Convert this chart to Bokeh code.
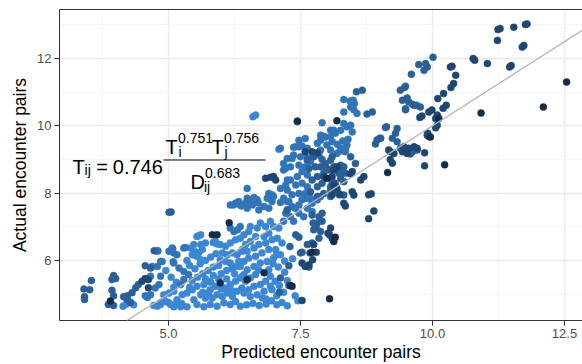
from bokeh.plotting import figure
from bokeh.models import Range1d, Slope, Label, LinearAxis, FixedTicker, NumeralTickFormatter
from bokeh.embed import file_html
from bokeh.resources import INLINE
from bokeh.core.properties import value

# ---- data: predicted (x) and actual (y) encounter pairs, grouped by colour shade ----
darkest_x = [12.54, 12.10, 10.92, 10.23, 9.15, 3.90, 8.05, 7.31, 7.34, 6.15, 8.19, 7.44, 8.16, 8.13,
             5.83, 5.92, 6.81, 7.72, 5.98, 6.49, 8.00, 9.96, 10.12]
darkest_y = [11.30, 10.56, 10.38, 8.84, 8.61, 4.79, 4.86, 5.25, 5.23, 7.12, 10.15, 10.14, 6.69, 6.56,
             6.76, 6.76, 5.63, 6.24, 5.33, 5.43, 8.44, 9.67, 10.22]

dark_x = [11.24, 11.28, 11.54, 11.76, 11.79, 11.23, 11.70, 11.73, 10.77, 10.80, 11.04, 11.46, 11.49,
          10.34, 10.37, 10.44, 10.40, 10.35, 10.21, 10.10, 10.26, 10.20, 9.99, 9.93, 10.09, 10.06,
          10.09, 10.06, 9.91, 9.93, 9.85, 9.85, 9.76, 9.80, 9.90, 9.46, 9.55, 9.65, 9.71, 9.43, 9.52,
          9.20, 9.24, 8.70, 8.64, 9.20, 9.27, 8.79, 8.84, 8.89, 8.79, 8.10, 8.05, 8.07, 8.02, 7.68,
          7.73, 7.53, 8.48, 8.32, 8.35, 9.17, 7.82, 7.72, 7.59, 8.13, 8.19, 8.13, 8.19, 7.94, 8.10,
          6.84, 6.93, 6.99, 7.03, 8.51, 8.48, 8.45, 7.80, 8.10, 8.24, 7.75, 7.66, 7.59, 7.53,
          4.50, 4.56, 4.62, 4.62]
dark_y = [12.86, 12.89, 12.93, 13.01, 13.03, 12.54, 12.34, 12.39, 12.00, 11.95, 11.85, 11.75, 11.79,
          11.75, 11.77, 11.50, 11.26, 11.14, 10.96, 10.81, 10.61, 10.52, 10.47, 10.41, 10.32, 10.22,
          10.02, 9.94, 9.78, 9.68, 9.20, 8.81, 10.25, 10.29, 9.72, 9.38, 9.33, 9.38, 9.33, 9.23, 9.18,
          9.00, 8.89, 8.49, 8.39, 9.23, 9.18, 7.95, 7.98, 7.47, 7.24, 6.66, 6.76, 6.96, 6.81, 6.22,
          6.02, 4.81, 8.04, 7.70, 7.62, 9.28, 9.20, 9.23, 9.23, 8.24, 8.14, 8.69, 8.78, 8.49, 8.49,
          8.44, 8.47, 8.49, 8.39, 7.94, 8.64, 8.57, 6.24, 7.95, 7.95, 6.47, 5.87, 5.82, 5.92,
          5.38, 5.46, 5.43, 5.19]

mid_x = [10.01, 9.74, 9.87, 9.90, 9.84, 9.60, 9.39, 9.47, 9.49, 9.43, 9.52, 9.55, 9.49, 9.65, 9.77,
         9.62, 9.70, 9.49, 8.67, 8.56, 8.76, 8.86, 9.13, 9.33, 9.30, 8.95, 9.00, 8.92, 9.11, 9.24,
         9.33, 9.02, 9.52, 9.62, 9.68, 9.71, 9.58, 9.39, 8.23, 8.26, 8.32, 7.91, 7.82, 7.85, 7.91,
         7.75, 7.78, 7.72, 7.53, 7.63, 7.47, 7.41, 7.50, 7.66, 7.28, 7.12, 7.30, 7.88, 7.80, 7.85,
         7.74, 7.72, 3.54, 3.40, 3.51, 3.41, 3.41, 3.96, 3.93, 4.00, 3.93, 3.96, 3.86, 3.96, 4.15,
         4.22, 4.31, 4.38, 4.43, 4.56, 4.66, 4.73, 4.22, 4.28, 5.01, 5.05, 8.16, 8.07, 8.13, 8.23,
         8.32, 8.07, 8.10, 8.13, 8.19, 8.26, 8.32, 8.35, 7.63, 7.75, 7.66, 7.78, 8.00, 8.04, 7.94,
         7.82, 7.72, 7.91, 8.10, 8.16, 8.07, 7.94, 7.82, 7.69, 7.82, 7.91, 7.97, 7.88, 8.07, 8.26,
         8.54, 8.45, 7.25, 7.28, 7.10]
mid_y = [12.04, 11.82, 11.85, 11.75, 11.65, 11.53, 11.06, 11.14, 11.18, 10.76, 10.83, 10.71, 10.51,
         10.61, 10.56, 10.64, 10.61, 10.48, 11.06, 11.01, 10.35, 10.41, 9.97, 9.92, 9.78, 9.58, 9.63,
         9.46, 9.95, 9.63, 9.53, 9.63, 9.28, 9.23, 9.33, 9.28, 9.16, 9.33, 8.59, 8.44, 8.34, 7.16,
         7.11, 7.30, 7.40, 6.91, 6.96, 6.52, 6.24, 6.47, 6.69, 6.76, 6.22, 5.80, 5.84, 5.48, 6.41,
         6.86, 6.98, 6.66, 7.11, 7.35, 5.40, 5.15, 5.13, 4.92, 4.84, 5.55, 5.43, 5.46, 5.11, 4.95,
         4.69, 4.66, 4.92, 4.95, 5.04, 5.19, 5.28, 5.84, 5.77, 6.29, 4.84, 4.75, 7.43, 7.44, 8.29,
         8.19, 8.09, 7.99, 7.94, 7.90, 9.08, 8.78, 8.69, 8.74, 8.78, 8.59, 8.98, 9.08, 8.73, 8.78,
         8.73, 8.69, 8.59, 8.49, 8.39, 8.29, 8.34, 8.19, 8.09, 7.99, 7.90, 8.04, 8.19, 9.00, 8.88,
         8.78, 8.98, 8.83, 8.88, 9.08, 7.50, 5.25, 5.05]

light_x = [8.32, 8.44, 8.50, 8.52, 8.45, 8.51, 8.57, 8.32, 8.32, 8.38, 8.45, 8.48, 8.26, 8.16, 8.07,
           7.91, 7.88, 7.93, 8.07, 8.13, 8.00, 8.10, 7.97, 7.88, 8.20, 8.30, 8.40, 8.35, 8.25, 8.38,
           8.26, 8.35, 8.07, 8.19, 7.44, 7.37, 7.47, 7.53, 7.41, 7.12, 7.63, 7.47, 7.59, 7.82, 7.88,
           7.50, 7.37, 7.25, 7.18, 7.31, 7.47, 7.34, 7.18, 7.22, 7.63, 7.69, 7.59, 7.85, 7.63, 7.53,
           7.44, 7.53, 7.63, 7.41, 7.31, 7.25, 7.34, 7.47, 7.59, 7.69, 7.59, 7.12, 7.22, 7.25, 6.49,
           6.49, 6.62, 6.90, 6.87, 6.96, 7.12, 7.25, 6.23, 6.31, 6.38, 6.46, 6.53, 6.68, 6.70, 6.17,
           6.27, 6.33, 6.62, 6.59, 6.49, 6.71, 6.81, 6.90, 6.96, 6.99, 7.18, 7.28, 7.34, 7.25, 7.40,
           7.47, 7.53, 7.63, 7.72, 7.82, 7.88, 7.63, 7.72, 7.47, 7.56, 7.31, 7.37, 7.18, 7.22, 6.17,
           6.24, 6.31, 6.36, 5.08, 5.09, 5.32, 4.80, 4.88, 5.09, 4.79, 4.85, 4.79, 4.69, 4.66, 4.85,
           4.75, 4.82, 5.01, 5.07, 5.16, 5.29, 5.10, 5.20, 5.29, 5.29, 5.38, 5.23, 4.56, 4.66, 4.60]
light_y = [10.78, 10.74, 10.76, 10.66, 10.56, 10.48, 10.37, 10.41, 10.07, 9.97, 10.02, 9.82, 9.87,
           9.78, 9.68, 10.09, 9.72, 9.69, 9.87, 9.87, 9.43, 9.53, 9.67, 9.57, 9.45, 9.55, 9.60, 9.35,
           9.25, 9.43, 9.33, 9.23, 9.28, 9.18, 10.12, 9.36, 9.38, 9.40, 9.38, 9.33, 9.33, 9.57, 9.62,
           9.48, 9.28, 9.08, 9.13, 9.03, 8.88, 8.78, 8.83, 9.03, 8.69, 8.74, 9.06, 8.93, 8.78, 9.13,
           8.54, 8.64, 8.49, 8.29, 8.19, 8.24, 8.39, 8.09, 7.95, 7.99, 7.99, 7.85, 7.85, 8.14, 8.24,
           8.39, 8.14, 7.85, 7.87, 7.99, 7.85, 7.95, 7.72, 7.75, 7.65, 7.68, 7.62, 7.71, 7.77, 7.80,
           7.71, 7.65, 7.70, 7.75, 7.85, 7.65, 7.55, 7.50, 7.60, 7.55, 7.75, 7.90, 7.85, 7.75, 7.60,
           7.50, 7.55, 7.65, 7.80, 7.85, 7.70, 7.80, 7.90, 7.55, 7.45, 7.40, 7.30, 7.30, 7.16, 7.16,
           7.40, 6.96, 6.86, 6.91, 7.01, 6.35, 6.23, 6.38, 6.29, 5.97, 5.96, 6.27, 5.97, 5.82, 5.82,
           5.53, 5.53, 5.18, 5.28, 6.27, 6.37, 6.17, 6.37, 5.92, 5.77, 5.67, 5.43, 5.58, 5.28, 4.95,
           4.98, 4.90]

lightest_x = [6.60, 6.65, 7.09, 5.54, 5.61, 5.70, 5.61, 5.48, 5.42, 5.48, 5.57, 5.64, 5.51, 5.45,
              5.54, 5.61, 5.57, 5.85, 5.92, 5.89, 5.98, 6.08, 6.17, 6.27, 6.36, 6.21, 6.11, 6.02,
              5.98, 6.08, 6.17, 6.30, 6.39, 6.33, 6.27, 6.43, 6.52, 6.55, 6.68, 6.74, 6.84, 6.93,
              6.99, 7.09, 6.90, 6.81, 6.65, 6.55, 6.46, 6.40, 6.49, 6.62, 6.71, 6.84, 6.96, 7.06,
              7.15, 7.03, 6.90, 6.77, 6.65, 6.52, 6.43, 6.36, 6.49, 6.62, 6.74, 6.87, 6.99, 7.12,
              7.05, 6.40, 6.46, 6.55, 6.65, 6.71, 6.90, 6.93, 6.84, 6.74, 6.62, 6.52, 6.43, 6.55,
              6.68, 6.81, 6.93, 6.96, 4.91, 5.01, 5.10, 4.94, 4.85, 5.04, 5.16, 5.26, 5.35, 5.45,
              5.54, 5.67, 5.76, 5.79, 5.89, 6.08, 6.17, 6.27, 6.36, 6.43, 5.61, 5.70, 5.83, 5.92,
              6.02, 6.11, 6.21, 6.30, 6.39, 5.54, 5.67, 5.79, 5.92, 6.05, 6.17, 6.27, 6.36, 5.35,
              5.23, 5.10, 5.48, 5.76, 4.14, 4.79, 4.85, 5.00, 5.15, 5.25, 4.20, 4.28, 4.34, 4.72,
              6.48, 6.60, 6.72, 6.85, 6.95, 7.05, 7.15, 7.25, 6.78, 7.05, 7.18, 7.10, 7.25, 7.02,
              7.20, 7.08, 6.98, 7.20, 7.35, 5.45, 5.55, 5.65, 5.75, 5.85, 5.95, 5.50, 5.60, 5.70,
              5.80, 5.90, 5.70, 5.85, 6.00, 6.10, 6.20, 5.95, 6.10, 6.25, 5.40, 5.35, 5.80, 6.00,
              6.20, 5.65, 5.40, 5.15, 5.05, 4.95, 5.10, 6.85, 7.40, 7.45]
lightest_y = [10.27, 10.32, 9.30, 6.71, 6.76, 6.52, 6.47, 6.47, 6.37, 6.17, 6.22, 6.32, 6.26, 6.17,
              6.12, 6.02, 6.73, 6.53, 6.49, 6.56, 6.47, 6.42, 6.52, 6.61, 6.66, 6.22, 6.17, 6.22,
              6.02, 5.97, 5.92, 6.17, 6.27, 5.97, 5.82, 6.76, 6.86, 7.01, 6.96, 7.11, 7.01, 7.16,
              7.01, 6.96, 6.81, 6.71, 6.71, 6.56, 6.47, 6.32, 6.27, 6.37, 6.47, 6.52, 6.61, 6.66,
              6.52, 6.32, 6.32, 6.22, 6.12, 6.07, 5.97, 5.82, 5.72, 5.82, 5.92, 5.97, 6.07, 6.17,
              6.17, 5.53, 5.38, 5.48, 5.58, 5.72, 5.72, 5.53, 5.38, 5.28, 5.23, 5.13, 5.03, 4.93,
              4.98, 5.08, 5.23, 5.13, 4.98, 5.03, 5.08, 4.78, 4.69, 4.69, 4.83, 4.98, 5.03, 5.13,
              5.23, 5.28, 5.38, 5.13, 5.23, 5.18, 5.28, 5.38, 5.48, 5.58, 4.98, 4.88, 4.88, 4.98,
              4.93, 5.03, 4.93, 5.08, 5.18, 4.69, 4.62, 4.69, 4.64, 4.74, 4.69, 4.78, 4.64, 4.62,
              4.62, 4.62, 4.83, 5.03, 4.64, 4.64, 4.75, 4.75, 4.70, 4.72, 4.70, 4.75, 4.68, 4.66,
              4.68, 4.72, 4.66, 4.70, 4.80, 4.68, 4.75, 4.65, 4.88, 4.95, 5.05, 5.25, 5.40, 5.38,
              5.65, 5.80, 5.90, 5.98, 6.05, 5.40, 5.50, 5.60, 5.70, 5.80, 5.85, 5.75, 5.90, 6.00,
              6.10, 6.20, 5.45, 5.55, 5.60, 5.70, 5.75, 5.45, 5.45, 5.60, 5.85, 6.00, 5.35, 5.15,
              5.10, 5.05, 5.20, 5.35, 5.50, 5.70, 5.20, 4.85, 4.95, 4.80]

groups = [
    (lightest_x, lightest_y, "#3C87D3"),
    (light_x, light_y, "#3274B8"),
    (mid_x, mid_y, "#2A5F97"),
    (dark_x, dark_y, "#1F4670"),
    (darkest_x, darkest_y, "#142D47"),
]

x_ticks = [5.0, 7.5, 10.0, 12.5]
y_ticks = [6, 8, 10, 12]

FONT = "Liberation Sans"

p = figure(width=582, height=364, output_backend="svg", toolbar_location=None,
           x_range=Range1d(2.936, 12.841), y_range=Range1d(4.213, 13.458),
           min_border_left=59, min_border_right=0, min_border_top=9, min_border_bottom=43,
           x_axis_label="Predicted encounter pairs", y_axis_label="Actual encounter pairs")
p.outline_line_color = None
p.background_fill_color = "white"
p.border_fill_color = "white"

# grid
p.xaxis.ticker = FixedTicker(ticks=x_ticks, minor_ticks=[3.75, 6.25, 8.75, 11.25])
p.yaxis.ticker = FixedTicker(ticks=y_ticks, minor_ticks=[5, 7, 9, 11, 13])
p.xaxis.formatter = NumeralTickFormatter(format="0.0")
p.yaxis.formatter = NumeralTickFormatter(format="0")
for g in (p.xgrid[0], p.ygrid[0]):
    g.grid_line_color = "#EBEBEB"
    g.grid_line_width = 1.4
    g.minor_grid_line_color = "#F3F3F3"
    g.minor_grid_line_width = 0.8

for ax in (p.xaxis[0], p.yaxis[0]):
    ax.axis_line_color = "#333333"
    ax.axis_line_width = 1
    ax.major_tick_line_color = "#333333"
    ax.major_tick_out = 5
    ax.major_tick_in = 0
    ax.minor_tick_out = 0
    ax.minor_tick_in = 0
    ax.major_label_text_color = "#4D4D4D"
    ax.major_label_text_font = FONT
    ax.major_label_text_font_size = "13px"
    ax.major_label_standoff = 3
    ax.axis_label_text_font = FONT
    ax.axis_label_text_font_size = "17.5px"
    ax.axis_label_text_font_style = "normal"
    ax.axis_label_text_color = "black"
p.xaxis[0].axis_label_standoff = 1
p.yaxis[0].axis_label_standoff = 4

top = LinearAxis(ticker=FixedTicker(ticks=[]), major_tick_out=0, major_tick_in=0,
                 minor_tick_out=0, minor_tick_in=0, major_label_standoff=0,
                 axis_line_color="#333333", axis_line_width=1)
p.add_layout(top, "above")

for xs, ys, col in groups:
    p.scatter(xs, ys, size=7, fill_color=col, line_color=col, line_width=0.5)

p.add_layout(Slope(gradient=1, y_intercept=0, line_color="#B3B3B3", line_width=1.3))

# formula annotation
def lab(x, y, t, size):
    p.add_layout(Label(x=x, y=y, text=t, text_font=FONT, text_font_size=size,
                       text_color="black", text_baseline="alphabetic", text_align="left"))

lab(3.182, 8.776, "T", "20px")
lab(3.410, 8.690, "ij", "14px")
lab(3.630, 8.776, "=", "20px")
lab(3.945, 8.776, "0.746", "20px")
p.segment(x0=[4.905], y0=[8.984], x1=[6.837], y1=[8.984], line_color="black", line_width=1)
lab(4.943, 9.369, "T", "20px")
lab(5.180, 9.650, "0.751", "14px")
lab(5.189, 9.236, "i", "14px")
lab(5.814, 9.369, "T", "20px")
lab(6.051, 9.650, "0.756", "14px")
lab(6.061, 9.236, "j", "14px")
lab(5.417, 8.332, "D", "20px")
lab(5.691, 8.599, "0.683", "14px")
lab(5.672, 8.184, "ij", "14px")

open("out.html", "w").write(file_html(p, INLINE))
